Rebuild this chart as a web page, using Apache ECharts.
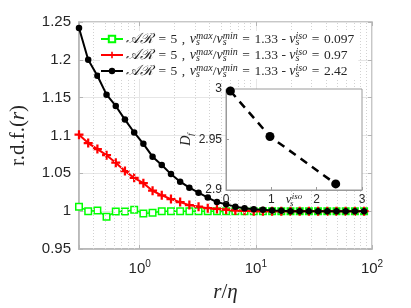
<!DOCTYPE html>
<html><head><meta charset="utf-8">
<script src="https://cdn.jsdelivr.net/npm/echarts@6/dist/echarts.min.js"></script>
<style>html,body{margin:0;padding:0;background:#fff}#c{width:411px;height:308px}</style>
</head><body><div id="c"></div>
<script>
// r/eta sample positions
const rEta = [0.30, 0.36, 0.432, 0.518, 0.622, 0.746, 0.896, 1.075, 1.29, 1.548, 1.858, 2.229, 2.675, 3.21, 3.852, 4.622,
  5.547, 6.656, 7.988, 9.585, 11.50, 13.80, 16.56, 19.88, 23.85, 28.62, 34.35, 41.22, 49.46, 59.35, 71.22, 85.47];
const rdfIso0097 = [1.006, 1.000, 1.001, 0.9925, 0.9995, 0.9995, 1.002, 0.997, 0.998, 1.000, 1.000, 1.000, 1.000, 1.000, 1.000, 1.000,
  1.000, 1.000, 1.000, 1.000, 1.000, 1.000, 1.000, 1.000, 1.000, 1.000, 1.000, 1.000, 1.000, 1.000, 1.000, 1.000];
const rdfIso097 = [1.101, 1.090, 1.082, 1.074, 1.064, 1.053, 1.044, 1.037, 1.027, 1.021, 1.016, 1.012, 1.008, 1.006, 1.004, 1.003,
  1.002, 1.001, 1.0005, 1.000, 1.000, 1.000, 1.000, 1.000, 1.000, 1.000, 1.000, 1.000, 1.000, 1.000, 1.000, 1.000];
const rdfIso242 = [1.242, 1.200, 1.179, 1.154, 1.139, 1.121, 1.104, 1.089, 1.072, 1.061, 1.049, 1.039, 1.031, 1.0245, 1.018, 1.012,
  1.009, 1.006, 1.004, 1.0025, 1.002, 1.001, 1.0005, 1.000, 1.000, 1.000, 1.000, 1.000, 1.000, 1.000, 1.000, 1.000];
const legendIso = ['0.097', '0.97', '2.42'];
const minorGrid = [0.4, 0.5, 0.6, 0.7, 0.8, 0.9, 2, 3, 4, 5, 6, 7, 8, 9, 20, 30, 40, 50, 60, 70, 80, 90];
// inset
const vIso = [0.097, 0.97, 2.42];
const Df = [2.998, 2.953, 2.906];

const SERIF = 'Liberation Serif';
const SANS = 'Liberation Sans';
const TXT = '#262626';
const AX = '#b5b5b5';
const SP = '\u2004';

const chart = echarts.init(document.getElementById('c'), null, {renderer: 'canvas'});
const pairs = arr => rEta.map((x, i) => [x, arr[i]]);

const FS = 13.5;
const legendRich = {
  t: {fontFamily: SERIF, fontSize: FS, color: TXT, lineHeight: 16},
  c: {fontFamily: SERIF, fontSize: FS + 1, color: TXT, lineHeight: 16, fontStyle: 'italic'},
  i: {fontFamily: SERIF, fontSize: FS + 0.5, color: TXT, lineHeight: 16, fontStyle: 'italic'},
  sup: {fontFamily: SERIF, fontSize: 10, color: TXT, lineHeight: 9, fontStyle: 'italic', verticalAlign: 'top'},
  sub: {fontFamily: SERIF, fontSize: 10, color: TXT, lineHeight: 9, fontStyle: 'italic', verticalAlign: 'bottom', width: 0.1}
};
const names = legendIso.map(v => 'iso ' + v);

const plusPath = 'path://M3,0H5V3H8V5H5V8H3V5H0V3H3Z';

const option = {
  animation: false,
  backgroundColor: '#fff',
  grid: [
    {left: 65, right: 39, top: 22, bottom: 54, show: true, borderColor: AX, borderWidth: 1.5, backgroundColor: 'transparent'},
    {left: 226, top: 89, width: 136, height: 101, show: true, borderColor: '#9a9a9a', borderWidth: 1, backgroundColor: '#fff', z: 10}
  ],
  legend: {
    data: names, left: 100, top: 31, orient: 'vertical', itemGap: 0, itemWidth: 22, itemHeight: 8,
    padding: [0, 4, 0, 0], backgroundColor: '#fff', z: 12,
    formatter: n => {
      const v = legendIso[names.indexOf(n)];
      return '{c|𝒜ℛ}{t|' + SP + '=' + SP + '5' + SP + ',' + SP + '}{i|v}{sub|s}{sup|max}{t|/}{i|v}{sub|s}{sup|min}{t|' + SP + '=' + SP + '1.33 - }{i|v}{sub|s}{sup|iso}{t|' + SP + '=' + SP + v + '}';
    },
    textStyle: {rich: legendRich, padding: [0, 0, 0, -2]}
  },
  xAxis: [
    {type: 'log', gridIndex: 0, min: 0.3, max: 100, logBase: 10,
      name: '{i|r}{n|/}{i|η}', nameLocation: 'middle', nameGap: 33,
      nameTextStyle: {rich: {i: {fontFamily: SERIF, fontStyle: 'italic', fontSize: 21, color: TXT}, n: {fontFamily: SERIF, fontSize: 21, color: TXT}}},
      axisLine: {show: true, lineStyle: {color: AX, width: 1.5}},
      axisTick: {show: true, inside: true, length: 4, lineStyle: {color: AX}},
      splitLine: {show: true, lineStyle: {color: '#e6e6e6', width: 1}},
      axisLabel: {margin: 10, formatter: v => {
        const l = Math.log10(v), e = Math.round(l);
        if (Math.abs(l - e) > 1e-6) return '';
        return '{b|10}{s|' + e + '}';
      }, rich: {b: {fontFamily: SANS, fontSize: 15, color: TXT, lineHeight: 20}, s: {fontFamily: SANS, fontSize: 10, color: TXT, lineHeight: 10, verticalAlign: 'top'}}}
    },
    {type: 'log', gridIndex: 0, min: 0.3, max: 100, position: 'top',
      axisLine: {show: false}, axisLabel: {show: false}, splitLine: {show: false},
      axisTick: {show: true, inside: true, length: 4, lineStyle: {color: AX}}},
    {type: 'value', gridIndex: 1, min: 0, max: 3, interval: 1,
      name: '{i|v}{sub|s}{sup|iso}', nameLocation: 'middle', nameGap: 2, nameMoveOverlap: false, z: 11,
      nameTextStyle: {rich: {
        i: {fontFamily: SERIF, fontStyle: 'italic', fontSize: 13, color: TXT, lineHeight: 16},
        sup: {fontFamily: SERIF, fontStyle: 'italic', fontSize: 9, color: TXT, lineHeight: 9, verticalAlign: 'top'},
        sub: {fontFamily: SERIF, fontStyle: 'italic', fontSize: 9, color: TXT, lineHeight: 9, verticalAlign: 'bottom', width: 0.1}}},
      axisLine: {show: true, lineStyle: {color: '#9a9a9a', width: 1}},
      axisTick: {show: true, inside: true, length: 3, lineStyle: {color: '#9a9a9a'}},
      splitLine: {show: false},
      axisLabel: {fontFamily: SANS, fontSize: 12, color: TXT, margin: 4}
    }
  ],
  yAxis: [
    {type: 'value', gridIndex: 0, min: 0.95, max: 1.25, interval: 0.05,
      name: '{n|r.d.f.(}{i|r}{n|)}', nameLocation: 'middle', nameGap: 50, nameRotate: 90,
      nameTextStyle: {rich: {i: {fontFamily: SERIF, fontStyle: 'italic', fontSize: 21, color: TXT}, n: {fontFamily: SERIF, fontSize: 21, color: TXT}}},
      axisLine: {show: true, lineStyle: {color: AX, width: 1.5}},
      axisTick: {show: true, inside: true, length: 4, lineStyle: {color: AX}},
      splitLine: {show: true, lineStyle: {color: '#e6e6e6', width: 1}},
      axisLabel: {fontFamily: SANS, fontSize: 15, color: TXT, margin: 8}
    },
    {type: 'value', gridIndex: 0, min: 0.95, max: 1.25, interval: 0.05, position: 'right',
      axisLine: {show: false}, axisLabel: {show: false}, splitLine: {show: false},
      axisTick: {show: true, inside: true, length: 4, lineStyle: {color: AX}}},
    {type: 'value', gridIndex: 1, min: 2.9, max: 3.0, interval: 0.05, z: 11,
      name: '{i|D}{sub|f}', nameLocation: 'middle', nameGap: 27, nameRotate: 90,
      nameTextStyle: {rich: {
        i: {fontFamily: SERIF, fontStyle: 'italic', fontSize: 14, color: TXT, lineHeight: 16},
        sub: {fontFamily: SERIF, fontStyle: 'italic', fontSize: 9, color: TXT, lineHeight: 9, verticalAlign: 'bottom'}}},
      axisLine: {show: true, lineStyle: {color: '#9a9a9a', width: 1}},
      axisTick: {show: true, inside: true, length: 3, lineStyle: {color: '#9a9a9a'}},
      splitLine: {show: false},
      axisLabel: {fontFamily: SANS, fontSize: 12, color: TXT, margin: 4, formatter: v => String(+v.toFixed(2))}
    }
  ],
  series: [
    {type: 'line', xAxisIndex: 0, yAxisIndex: 0, data: [], silent: true, z: 1,
      markLine: {silent: true, symbol: 'none', label: {show: false},
        lineStyle: {color: '#d2d2d2', type: [1, 2], width: 1},
        data: minorGrid.map(v => ({xAxis: v}))}},
    {name: names[0], type: 'line', xAxisIndex: 0, yAxisIndex: 0, data: pairs(rdfIso0097), z: 3,
      color: '#00ff00', lineStyle: {width: 1.5, color: '#00ff00'},
      symbol: 'rect', symbolSize: 6.5, showAllSymbol: true, itemStyle: {color: '#fff', borderColor: '#00ff00', borderWidth: 1.5}},
    {name: names[1], type: 'line', xAxisIndex: 0, yAxisIndex: 0, data: pairs(rdfIso097), z: 4,
      color: '#ff0000', lineStyle: {width: 2, color: '#ff0000'},
      symbol: plusPath, symbolSize: 9, showAllSymbol: true, itemStyle: {color: '#ff0000'}},
    {name: names[2], type: 'line', xAxisIndex: 0, yAxisIndex: 0, data: pairs(rdfIso242), z: 5,
      color: '#000', lineStyle: {width: 2, color: '#000'},
      symbol: 'circle', symbolSize: 6.5, showAllSymbol: true, itemStyle: {color: '#000'}},
    {type: 'line', xAxisIndex: 2, yAxisIndex: 2, data: vIso.map((x, i) => [x, Df[i]]), z: 12,
      lineStyle: {width: 2.5, color: '#000', type: [8, 6]},
      symbol: 'circle', symbolSize: 9, itemStyle: {color: '#000'}}
  ]
};
chart.setOption(option);
</script></body></html>
